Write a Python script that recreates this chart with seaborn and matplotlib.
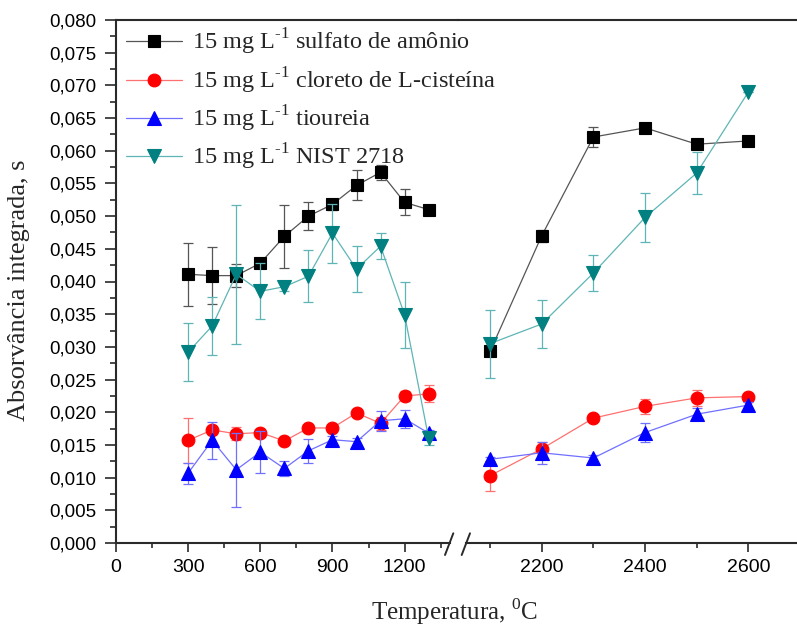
import matplotlib
matplotlib.use("Agg")
import matplotlib.pyplot as plt
from matplotlib.lines import Line2D
from matplotlib.ticker import MultipleLocator, FixedLocator, FuncFormatter
import pandas as pd
import seaborn as sns

# Pyrolysis temperatures (°C); the axis is broken between 1300 and 2100
temperaturas = [300, 400, 500, 600, 700, 800, 900, 1000, 1100, 1200, 1300,
                2100, 2200, 2300, 2400, 2500, 2600]

sulfato = [0.0411, 0.0409, 0.0409, 0.0428, 0.0469, 0.0500, 0.0518, 0.0547, 0.0567, 0.0521, 0.0510,
           0.0293, 0.0470, 0.0621, 0.0635, 0.0610, 0.0615]
sulfato_err = [0.0048, 0.0044, 0.0018, 0.0004, 0.0048, 0.0021, 0.0008, 0.0023, 0.0011, 0.0020, 0.0,
               0.0005, 0.0009, 0.0016, 0.0004, 0.0004, 0.0]

cloreto = [0.0157, 0.0173, 0.0167, 0.0169, 0.0156, 0.0176, 0.0176, 0.0199, 0.0183, 0.0225, 0.0228,
           0.0103, 0.0144, 0.0191, 0.0209, 0.0222, 0.0224]
cloreto_err = [0.0034, 0.0006, 0.0010, 0.0005, 0.0003, 0.0004, 0.0004, 0.0004, 0.0010, 0.0008, 0.0013,
               0.0023, 0.0010, 0.0003, 0.0011, 0.0012, 0.0003]

tioureia = [0.0107, 0.0157, 0.0112, 0.0139, 0.0114, 0.0141, 0.0158, 0.0155, 0.0187, 0.0190, 0.0168,
            0.0128, 0.0138, 0.0130, 0.0169, 0.0197, 0.0211]
tioureia_err = [0.0016, 0.0028, 0.0057, 0.0032, 0.0011, 0.0018, 0.0006, 0.0005, 0.0015, 0.0014, 0.0005,
                0.0004, 0.0017, 0.0004, 0.0014, 0.0009, 0.0004]

nist = [0.0292, 0.0332, 0.0411, 0.0385, 0.0392, 0.0408, 0.0474, 0.0419, 0.0454, 0.0349, 0.0160,
        0.0305, 0.0335, 0.0413, 0.0498, 0.0566, 0.0690]
nist_err = [0.0044, 0.0044, 0.0106, 0.0043, 0.0006, 0.0040, 0.0045, 0.0035, 0.0020, 0.0050, 0.0010,
            0.0052, 0.0037, 0.0027, 0.0038, 0.0032, 0.0]

rotulos = [r"15 mg L$^{\text{-1}}$ sulfato de amônio",
           r"15 mg L$^{\text{-1}}$ cloreto de L-cisteína",
           r"15 mg L$^{\text{-1}}$ tioureia",
           r"15 mg L$^{\text{-1}}$ NIST 2718"]

# marker, marker colour, line/error colour, marker size
estilos = [("s", "#000000", "#555555", 8.0),
           ("o", "#ff0000", "#ff7070", 9.2),
           ("^", "#0000ff", "#7070ff", 10.2),
           ("v", "#008080", "#5fb5b5", 10.2)]

sns.set_style("ticks")
plt.rcParams["font.family"] = ["Liberation Serif", "DejaVu Serif"]
plt.rcParams["mathtext.fontset"] = "custom"
plt.rcParams["mathtext.rm"] = "Liberation Serif"
plt.rcParams["axes.edgecolor"] = "#2a2a2a"
plt.rcParams["xtick.color"] = "#2a2a2a"
plt.rcParams["ytick.color"] = "#2a2a2a"

W, H = 797, 627
fig = plt.figure(figsize=(W / 100, H / 100), dpi=100)


def caixa(x0, y0, x1, y1):
    return [x0 / W, 1 - y1 / H, (x1 - x0) / W, (y1 - y0) / H]


ax_l = fig.add_axes(caixa(116, 20, 458, 543))
ax_r = fig.add_axes(caixa(458, 20, 797, 543))
ax_r.patch.set_visible(False)

lim_l = (0, 1422)
lim_r = (2038, 2694)
corte = 1700

series = [sulfato, cloreto, tioureia, nist]
erros = [sulfato_err, cloreto_err, tioureia_err, nist_err]

for i, (vals, errs, rot, (mk, mc, lc, ms)) in enumerate(zip(series, erros, rotulos, estilos)):
    df = pd.DataFrame({"temperatura": temperaturas, "absorvancia": vals, "erro": errs})
    for ax, parte in ((ax_l, df[df.temperatura < corte]), (ax_r, df[df.temperatura > corte])):
        ax.errorbar(parte.temperatura, parte.absorvancia, yerr=parte.erro, fmt="none",
                    ecolor=lc, elinewidth=0.9, capsize=3.8, capthick=0.9, zorder=2 + 2 * i)
        sns.lineplot(data=parte, x="temperatura", y="absorvancia", ax=ax, estimator=None,
                     sort=False, color=lc, linewidth=0.9, marker=mk, markersize=ms,
                     markerfacecolor=mc, markeredgecolor=mc, markeredgewidth=0.8,
                     label=rot if ax is ax_l else None, legend=False, zorder=3 + 2 * i)

virgula = FuncFormatter(lambda v, p: f"{v:.3f}".replace(".", ","))

for ax in (ax_l, ax_r):
    ax.set_ylim(0, 0.080)
    ax.set_xlabel("")
    ax.set_ylabel("")
    for s in ax.spines.values():
        s.set_linewidth(1.5)
    ax.tick_params(axis="x", which="major", direction="out", length=6.5, width=1.2,
                   labelsize=14, pad=5, labelfontfamily="Liberation Sans", labelcolor="black")
    ax.tick_params(axis="x", which="minor", direction="out", length=3.5, width=1.2)

ax_l.set_xlim(*lim_l)
ax_r.set_xlim(*lim_r)
ax_l.xaxis.set_major_locator(FixedLocator([0, 300, 600, 900, 1200]))
ax_l.xaxis.set_minor_locator(FixedLocator([150, 450, 750, 1050, 1350]))
ax_r.xaxis.set_major_locator(FixedLocator([2200, 2400, 2600]))
ax_r.xaxis.set_minor_locator(FixedLocator([2100, 2300, 2500]))

ax_l.yaxis.set_major_locator(MultipleLocator(0.005))
ax_l.yaxis.set_minor_locator(MultipleLocator(0.0025))
ax_l.yaxis.set_major_formatter(virgula)
ax_l.tick_params(axis="y", which="major", direction="out", length=8, width=1.2,
                 labelsize=13.5, pad=6, labelfontfamily="Liberation Sans", labelcolor="black")
ax_l.tick_params(axis="y", which="minor", direction="out", length=4, width=1.2)
ax_r.tick_params(axis="y", which="both", left=False, right=False, labelleft=False)

ax_l.spines["right"].set_visible(False)
ax_r.spines["left"].set_visible(False)
ax_r.spines["right"].set_visible(False)

# open gap in the bottom axis line with two slashes
ax_l.spines["bottom"].set_bounds(0, 1390)
ax_r.spines["bottom"].set_bounds(2053.5, lim_r[1])
for xa, xb in ((445, 453.3), (461.7, 470)):
    fig.add_artist(Line2D([xa / W, xb / W], [1 - 555 / H, 1 - 533.3 / H],
                          transform=fig.transFigure, color="#2a2a2a", linewidth=1.4))

handles, labels = ax_l.get_legend_handles_labels()
fig.legend(handles, labels, loc="upper left", bbox_to_anchor=(126 / W, 1 - 27 / H),
           frameon=False, fontsize=17.5, borderpad=0, borderaxespad=0,
           handlelength=2.3, handletextpad=0.42, labelspacing=0.33)

fig.text(19 / W, 1 - 290 / H, "Absorvância integrada, s", rotation=90,
         ha="center", va="center", fontsize=19)
fig.text(455 / W, 1 - 620 / H, r"Temperatura, $^{\mathregular{0}}$C",
         ha="center", va="baseline", fontsize=18)

fig.savefig("out.png", dpi=100)
